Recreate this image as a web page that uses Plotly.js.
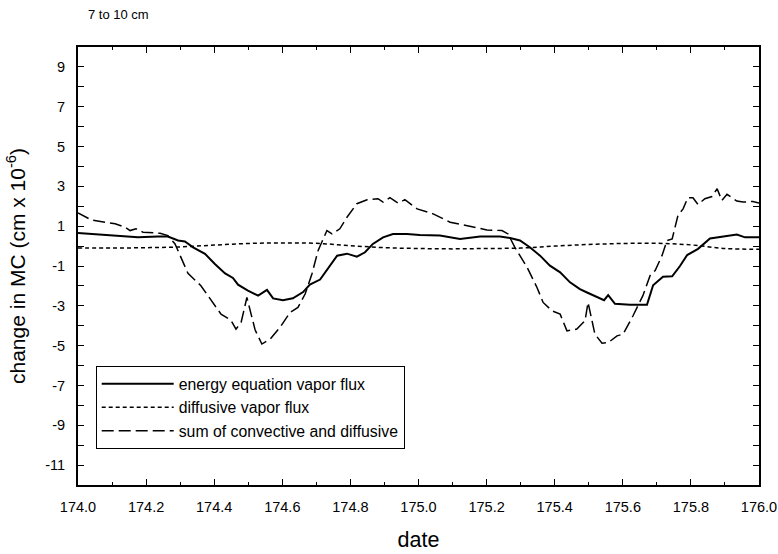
<!DOCTYPE html>
<html>
<head>
<meta charset="utf-8">
<script src="https://cdn.plot.ly/plotly-3.0.1.min.js"></script>
<style>html,body{margin:0;padding:0;background:#fff;}#chart{width:778px;height:554px;}</style>
</head>
<body>
<div id="chart"></div>
<script>
// ---- data ----
const energyX = [174.000,174.059,174.117,174.176,174.235,174.264,174.294,174.314,174.338,174.373,174.402,174.432,174.455,174.470,174.499,174.529,174.555,174.573,174.602,174.631,174.661,174.681,174.711,174.731,174.761,174.790,174.819,174.843,174.866,174.896,174.925,174.966,175.004,175.063,175.122,175.181,175.239,175.269,175.298,175.327,175.357,175.386,175.416,175.445,175.474,175.495,175.530,175.545,175.557,175.577,175.621,175.671,175.689,175.718,175.745,175.768,175.789,175.821,175.856,175.894,175.935,175.959,176.000];
const energyY = [0.66,0.58,0.49,0.44,0.48,0.48,0.28,0.23,-0.06,-0.39,-0.90,-1.37,-1.60,-1.94,-2.24,-2.49,-2.20,-2.63,-2.72,-2.62,-2.31,-1.93,-1.68,-1.20,-0.48,-0.38,-0.53,-0.31,0.11,0.44,0.61,0.61,0.56,0.53,0.36,0.48,0.48,0.41,0.28,-0.06,-0.48,-0.98,-1.32,-1.82,-2.16,-2.33,-2.62,-2.72,-2.46,-2.90,-2.95,-2.95,-1.97,-1.54,-1.52,-1.00,-0.45,-0.14,0.38,0.48,0.58,0.44,0.44];

const diffX = [174.0,174.1,174.2,174.3,174.4,174.5,174.6,174.7,174.8,174.9,175.0,175.1,175.2,175.3,175.4,175.5,175.6,175.7,175.8,175.9,176.0];
const diffY = [-0.10,-0.10,-0.08,-0.04,0.05,0.13,0.16,0.14,0.02,-0.08,-0.12,-0.14,-0.12,-0.10,0.00,0.08,0.13,0.14,0.06,-0.12,-0.16];

const sumX = [174.000,174.038,174.079,174.109,174.138,174.153,174.170,174.191,174.241,174.264,174.285,174.302,174.323,174.361,174.391,174.420,174.449,174.464,174.479,174.496,174.520,174.540,174.564,174.593,174.623,174.646,174.667,174.687,174.705,174.731,174.746,174.769,174.790,174.819,174.849,174.881,174.896,174.916,174.940,174.960,174.996,175.043,175.093,175.142,175.201,175.245,175.263,175.283,175.298,175.319,175.348,175.366,175.392,175.416,175.436,175.465,175.489,175.498,175.518,175.539,175.557,175.583,175.601,175.630,175.659,175.680,175.695,175.715,175.730,175.745,175.762,175.777,175.791,175.806,175.821,175.841,175.862,175.877,175.891,175.906,175.935,175.953,175.982,176.000];
const sumY = [1.67,1.32,1.20,1.12,0.95,0.78,0.87,0.70,0.64,0.53,0.11,-0.56,-1.37,-1.99,-2.75,-3.42,-3.72,-4.17,-3.84,-2.58,-4.20,-4.92,-4.68,-4.09,-3.33,-3.08,-2.41,-1.40,-0.23,0.78,0.61,0.87,1.45,2.13,2.33,2.38,2.21,2.43,2.16,2.33,1.87,1.62,1.20,1.03,0.81,0.78,0.61,-0.06,-0.48,-1.07,-2.08,-2.83,-3.25,-3.42,-4.26,-4.17,-3.75,-2.83,-4.42,-4.88,-4.85,-4.51,-4.42,-3.50,-2.49,-1.49,-1.23,-0.48,0.28,0.36,1.54,1.87,2.43,2.43,2.09,2.38,2.49,2.88,2.29,2.60,2.26,2.21,2.24,2.16];

const seriesNames = ['energy equation vapor flux','diffusive vapor flux','sum of convective and diffusive'];
const yTickVals = [9,7,5,3,1,-1,-3,-5,-7,-9,-11];
const yTickText = ['9','7','5','3','1','-1','-3','-5','-7','-9','-11'];
const xTickVals = [174.0,174.2,174.4,174.6,174.8,175.0,175.2,175.4,175.6,175.8,176.0];
const xTickText = ['174.0','174.2','174.4','174.6','174.8','175.0','175.2','175.4','175.6','175.8','176.0'];

const FONT = 'Liberation Sans, Arial, sans-serif';

const traces = [
  {x: energyX, y: energyY, name: seriesNames[0], mode: 'lines', line: {color: '#000', width: 2, dash: 'solid'}},
  {x: diffX, y: diffY, name: seriesNames[1], mode: 'lines', line: {color: '#000', width: 1.5, dash: '4px,3px', shape: 'spline'}},
  {x: sumX, y: sumY, name: seriesNames[2], mode: 'lines', line: {color: '#000', width: 1.5, dash: '12px,5px'}}
];

const layout = {
  width: 778, height: 554,
  margin: {l: 78, r: 19, t: 47, b: 69, pad: 0},
  paper_bgcolor: '#fff', plot_bgcolor: '#fff',
  font: {family: FONT, color: '#000'},
  title: {text: '7 to 10 cm', font: {family: FONT, size: 13, color: '#000'}, x: 88/778, xref: 'container', xanchor: 'left', y: 1 - 14/554, yref: 'container', yanchor: 'middle'},
  showlegend: true,
  legend: {x: 0.026, y: 0.272, xanchor: 'left', yanchor: 'top', bordercolor: '#000', borderwidth: 1, bgcolor: '#fff',
           font: {family: FONT, size: 15.8, color: '#000'}, itemwidth: 72, tracegroupgap: 0},
  xaxis: {
    range: [174, 176], tickmode: 'array', tickvals: xTickVals, ticktext: xTickText,
    ticks: 'inside', ticklen: 6, tickwidth: 1, tickcolor: '#000',
    showline: true, linewidth: 2, linecolor: '#000', mirror: 'ticks',
    showgrid: false, zeroline: false,
    tickfont: {family: FONT, size: 14.5, color: '#000'}, ticklabelstandoff: 8,
    minor: {dtick: 0.1, tick0: 174, ticks: 'inside', ticklen: 3, tickwidth: 1, tickcolor: '#000', showgrid: false},
    title: {text: 'date', font: {family: FONT, size: 21.5, color: '#000'}, standoff: 18}
  },
  yaxis: {
    range: [-12, 10], tickmode: 'array', tickvals: yTickVals, ticktext: yTickText,
    ticks: 'inside', ticklen: 6, tickwidth: 1, tickcolor: '#000',
    showline: true, linewidth: 2, linecolor: '#000', mirror: 'ticks',
    showgrid: false, zeroline: false,
    tickfont: {family: FONT, size: 14.5, color: '#000'}, ticklabelstandoff: 8,
    minor: {dtick: 1, tick0: 0, ticks: 'inside', ticklen: 6, tickwidth: 1, tickcolor: '#000', showgrid: false},
    title: {text: 'change in MC (cm x 10<sup>-6</sup>)', font: {family: FONT, size: 21, color: '#000'}, standoff: 14}
  }
};

Plotly.newPlot('chart', traces, layout, {displayModeBar: false, staticPlot: true});
</script>
</body>
</html>
